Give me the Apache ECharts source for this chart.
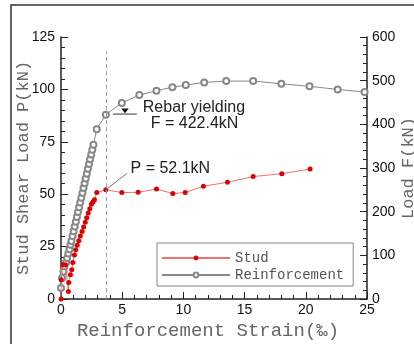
<!DOCTYPE html>
<html><head><meta charset="utf-8">
<script src="https://cdn.jsdelivr.net/npm/echarts@6/dist/echarts.min.js"></script>
<style>html,body{margin:0;padding:0;background:#fff;}#c{width:414px;height:344px;}</style>
</head><body><div id="c"></div>
<script>
// ---- data ----
const studStrain = [0, 0.02, 0.15, 0.36, 0.6, 0.63, 0.77, 0.88, 0.96, 1.1, 1.2, 1.32, 1.45, 1.58, 1.72, 1.85, 1.98, 2.1, 2.22, 2.35, 2.48, 2.6, 2.73, 2.92, 3.66, 4.97, 6.3, 7.8, 9.13, 10.14, 11.63, 13.6, 15.7, 18.04, 20.35];
const studLoad   = [0, 9.2, 16.3, 16.3, 3.6, 7.9, 11.6, 14, 17.4, 21, 23.5, 25.6, 27.8, 30, 32.2, 34.4, 36.6, 38.8, 41, 43, 45.2, 46.3, 47.3, 50.8, 52.1, 50.8, 50.9, 52.5, 50.3, 50.8, 53.8, 55.7, 58.4, 59.8, 62.0];
const rebarStrain = [0, 0.09, 0.2, 0.28, 0.42, 0.5, 0.6, 0.69, 0.77, 0.85, 0.94, 1.03, 1.12, 1.21, 1.3, 1.39, 1.48, 1.57, 1.66, 1.75, 1.84, 1.93, 2.02, 2.11, 2.2, 2.29, 2.38, 2.47, 2.56, 2.65, 2.92, 3.66, 4.97, 6.4, 7.8, 9.1, 10.2, 11.7, 13.5, 15.7, 18.0, 20.3, 22.6, 24.8];
const rebarLoad   = [25, 48, 63, 75, 84, 94, 104, 114, 124, 133, 144, 155, 166, 177, 188, 199, 210, 221, 232, 243, 254, 265, 276, 287, 298, 309, 320, 331, 342, 353, 389, 422, 449, 467, 477, 485, 490, 496, 499, 499, 493, 487, 480, 474];
const seriesNames = ['Stud', 'Reinforcement'];
const xTitle = 'Reinforcement Strain(‰)';
const yLeftTitle = 'Stud Shear Load P(kN)';
const yRightTitle = 'Load F(kN)';
const yieldStrain = 3.66;
const yieldStud = 52.1;
const yieldRebar = 422.4;
const dashTop = 118;
const studLabel = 'P = 52.1kN';
const rebarLabel1 = 'Rebar yielding';
const rebarLabel2 = 'F = 422.4kN';

const studData = studStrain.map((x, i) => [x, studLoad[i]]);
const rebarData = rebarStrain.map((x, i) => [x, rebarLoad[i]]);

const chart = echarts.init(document.getElementById('c'), null, {renderer: 'canvas'});
const tickFont = {fontFamily: 'Liberation Sans, Arial', fontSize: 14, color: '#111'};
const titleFont = {fontFamily: 'Liberation Mono, Courier New, monospace', fontSize: 17, color: '#666'};
const axisLine = {show: true, lineStyle: {color: '#222', width: 1.5}};

chart.setOption({
  animation: false,
  backgroundColor: '#fff',
  grid: {left: 61, right: 47, top: 37, bottom: 45, containLabel: false, outerBoundsMode: 'none'},
  legend: {
    data: seriesNames,
    orient: 'vertical',
    left: 157, top: 243,
    itemWidth: 68, itemHeight: 6, itemGap: 3,
    padding: [8, 9, 4, 4],
    borderColor: '#888', borderWidth: 1,
    backgroundColor: '#fff',
    textStyle: {fontFamily: 'Liberation Mono, monospace', fontSize: 14, color: '#555'}
  },
  xAxis: {
    type: 'value', min: 0, max: 25, interval: 5,
    name: xTitle, nameLocation: 'middle', nameGap: 22, nameMoveOverlap: false,
    nameTextStyle: Object.assign({}, titleFont, {fontSize: 19, padding: [0, 12, 0, 0]}),
    axisLine: axisLine,
    axisTick: {show: true, inside: true, length: 7, lineStyle: {color: '#222'}},
    minorTick: {show: true, splitNumber: 5, length: 4, lineStyle: {color: '#222'}},
    axisLabel: Object.assign({margin: 4}, tickFont),
    splitLine: {show: false}
  },
  yAxis: [{
    type: 'value', min: 0, max: 125, interval: 25,
    name: yLeftTitle, nameLocation: 'middle', nameGap: 29, nameRotate: 90, nameMoveOverlap: false,
    nameTextStyle: titleFont,
    axisLine: axisLine,
    axisTick: {show: true, inside: true, length: 7, lineStyle: {color: '#222'}},
    minorTick: {show: true, splitNumber: 5, length: 4, lineStyle: {color: '#222'}},
    axisLabel: Object.assign({margin: 6}, tickFont),
    splitLine: {show: false}
  }, {
    type: 'value', min: 0, max: 600, interval: 100, position: 'right',
    name: yRightTitle, nameLocation: 'middle', nameGap: 33, nameRotate: 90, nameMoveOverlap: false,
    nameTextStyle: titleFont,
    axisLine: axisLine,
    axisTick: {show: true, inside: true, length: 7, lineStyle: {color: '#222'}},
    minorTick: {show: true, splitNumber: 5, length: 4, lineStyle: {color: '#222'}},
    axisLabel: Object.assign({margin: 5}, tickFont),
    splitLine: {show: false}
  }],
  series: [{
    name: seriesNames[0], type: 'line', yAxisIndex: 0, data: studData,
    symbol: 'circle', symbolSize: 5,
    itemStyle: {color: '#e00000'},
    lineStyle: {color: '#f07070', width: 1},
    z: 3,
    markLine: {
      silent: true, symbol: 'none', label: {show: false},
      data: [
        [{coord: [yieldStrain, 0], lineStyle: {color: '#999', type: [4, 3], width: 1}},
         {coord: [yieldStrain, dashTop]}],
        [{coord: [yieldStrain, yieldStud], lineStyle: {color: '#777', type: 'solid', width: 1}},
         {coord: [5.4, 60]}]
      ]
    }
  }, {
    name: seriesNames[1], type: 'line', yAxisIndex: 1, data: rebarData,
    symbol: 'emptyCircle', symbolSize: 6,
    itemStyle: {color: '#888', borderWidth: 1},
    lineStyle: {color: '#888', width: 1},
    z: 2
  }]
});

function px(x, y, idx) { return chart.convertToPixel({xAxisIndex: 0, yAxisIndex: idx}, [x, y]); }
const p1 = px(5.6, 61, 0);
const r = px(yieldStrain, yieldRebar, 1);
const txt = {fontFamily: 'Liberation Sans, Arial', fontSize: 16, fill: '#222'};
chart.setOption({
  graphic: [
    {type: 'rect', silent: true, shape: {x: 11, y: 5, width: 500, height: 400}, style: {fill: 'none', stroke: '#333', lineWidth: 1.5}, z: 0},
    {type: 'text', x: p1[0] + 1, y: p1[1] - 3, style: Object.assign({text: studLabel, textVerticalAlign: 'middle'}, txt)},
    {type: 'polygon', shape: {points: [[r[0] + 15.5, r[1] - 6], [r[0] + 23, r[1] - 6], [r[0] + 19.2, r[1] - 1.3]]}, style: {fill: '#111'}},
    {type: 'line', shape: {x1: r[0] + 7, y1: r[1] - 0.5, x2: r[0] + 31, y2: r[1] - 0.5}, style: {stroke: '#333', lineWidth: 1}},
    {type: 'text', x: r[0] + 37, y: r[1] - 7, style: Object.assign({text: rebarLabel1, textVerticalAlign: 'middle'}, txt)},
    {type: 'text', x: r[0] + 45, y: r[1] + 9, style: Object.assign({text: rebarLabel2, textVerticalAlign: 'middle'}, txt)}
  ]
});
</script></body></html>
